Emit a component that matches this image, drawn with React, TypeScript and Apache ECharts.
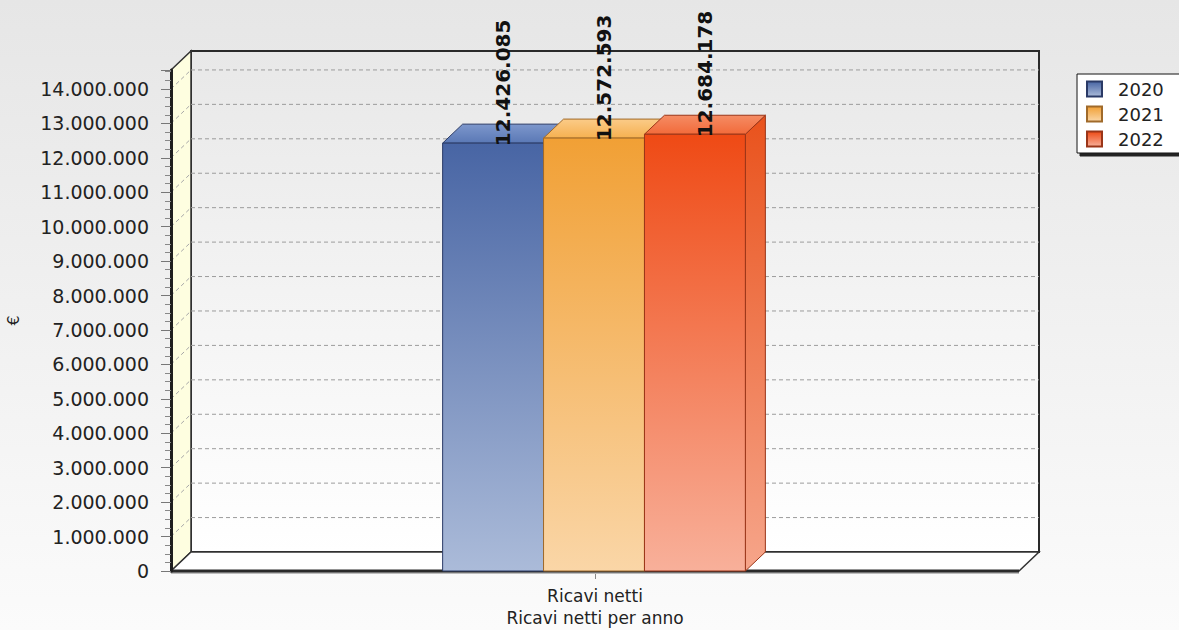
import React, { useEffect, useRef } from "react";
import * as echarts from "echarts";

// ---- data ----
const categories = ["Ricavi netti"];
const years = ["2020", "2021", "2022"];
const values = [12426085, 12572593, 12684178];
const yMin = 0;
const yMax = 14550000;
const yInterval = 1000000;
const xAxisTitle = "Ricavi netti per anno";
const yAxisTitle = "€";

// ---- style ----
const FONT = "DejaVu Sans";
const DX = 20;
const DY = 19;
const BAR_FRACTION = 0.119;
const frontTop = ["#4865a4", "#f1a035", "#ef4a15"];
const frontBottom = ["#abbbd9", "#fad6a7", "#f8b09a"];
const topBack = ["#7d97cc", "#fbcb88", "#f58c64"];
const topFront = ["#5a78b5", "#f5b050", "#f26a3a"];
const sideTop = ["#3c5590", "#e08f2c", "#e9521c"];
const sideBottom = ["#95a8cf", "#f3c68f", "#f6a58a"];
const borders = ["#2a3a66", "#a06a2a", "#9a3518"];

const fmt = (v: number) =>
  String(Math.round(v)).replace(/\B(?=(\d{3})+(?!\d))/g, ".");

const vgrad = (a: string, b: string) =>
  new echarts.graphic.LinearGradient(0, 0, 0, 1, [
    { offset: 0, color: a },
    { offset: 1, color: b },
  ]);

export default function App() {
  const ref = useRef<HTMLDivElement>(null);

  useEffect(() => {
    if (!ref.current) return;
    const chart = echarts.init(ref.current, undefined, { renderer: "svg" });

    const frameSeries = {
      type: "custom",
      name: "frame",
      silent: true,
      z: 1,
      data: [[0, 0]],
      renderItem: (params: any, api: any) => {
        const cs = params.coordSys;
        const xL = cs.x;
        const xR = cs.x + cs.width;
        const yT = cs.y;
        const yB = cs.y + cs.height;
        const children: any[] = [];
        children.push({
          type: "rect",
          shape: { x: xL + DX, y: yT - DY, width: cs.width, height: cs.height },
          style: {
            fill: vgrad("#e8e8e8", "#ffffff"),
            stroke: "#2a2a2a",
            lineWidth: 2,
          },
        });
        children.push({
          type: "polygon",
          shape: {
            points: [
              [xL, yT],
              [xL + DX, yT - DY],
              [xL + DX, yB - DY],
              [xL, yB],
            ],
          },
          style: { fill: "#fefee0", stroke: "#333", lineWidth: 1.5 },
        });
        children.push({
          type: "polygon",
          shape: {
            points: [
              [xL, yB],
              [xL + DX, yB - DY],
              [xR + DX, yB - DY],
              [xR, yB],
            ],
          },
          style: { fill: "#ffffff", stroke: "#333", lineWidth: 1.5 },
        });
        for (let t = yMin + yInterval; t <= yMax; t += yInterval) {
          const yf = api.coord([0, t])[1];
          const yb = yf - DY;
          children.push({
            type: "line",
            shape: { x1: xL + DX, y1: yb, x2: xR + DX, y2: yb },
            style: { stroke: "#9c9c9c", lineWidth: 1, lineDash: [4, 3] },
          });
          children.push({
            type: "line",
            shape: { x1: xL, y1: yf, x2: xL + DX, y2: yb },
            style: { stroke: "#a8a8a8", lineWidth: 1, lineDash: [4, 3] },
          });
        }
        children.push({
          type: "line",
          shape: { x1: xL, y1: yB + 2, x2: xR, y2: yB + 2 },
          style: { stroke: "#bdbdbd", lineWidth: 2 },
        });
        children.push({
          type: "line",
          shape: { x1: xL, y1: yB, x2: xR, y2: yB },
          style: { stroke: "#2a2a2a", lineWidth: 3 },
        });
        return { type: "group", children };
      },
    };

    const barSeries = years.map((year, i) => ({
      type: "custom",
      name: year,
      z: 3,
      itemStyle: {
        color: vgrad(frontTop[i], frontBottom[i]),
        borderColor: borders[i],
        borderWidth: 1,
      },
      data: [[0, values[i]]],
      renderItem: (params: any, api: any) => {
        const cat = api.value(0);
        const val = api.value(1);
        const base = api.coord([cat, yMin]);
        const top = api.coord([cat, val]);
        const band = api.size([1, 0])[0];
        const w = band * BAR_FRACTION;
        const x0 = base[0] - 1.5 * w + i * w - 1;
        const x1 = x0 + w;
        const yTop = top[1];
        const yBase = base[1];
        return {
          type: "group",
          children: [
            {
              type: "polygon",
              shape: {
                points: [
                  [x1, yTop],
                  [x1 + DX, yTop - DY],
                  [x1 + DX, yBase - DY],
                  [x1, yBase],
                ],
              },
              style: {
                fill: vgrad(sideTop[i], sideBottom[i]),
                stroke: borders[i],
                lineWidth: 1,
              },
            },
            {
              type: "polygon",
              shape: {
                points: [
                  [x0, yTop],
                  [x0 + DX, yTop - DY],
                  [x1 + DX, yTop - DY],
                  [x1, yTop],
                ],
              },
              style: {
                fill: new echarts.graphic.LinearGradient(0, 1, 0, 0, [
                  { offset: 0, color: topFront[i] },
                  { offset: 1, color: topBack[i] },
                ]),
                stroke: borders[i],
                lineWidth: 1,
              },
            },
            {
              type: "rect",
              shape: { x: x0, y: yTop, width: w, height: yBase - yTop },
              style: {
                fill: vgrad(frontTop[i], frontBottom[i]),
                stroke: borders[i],
                lineWidth: 1,
              },
            },
            {
              type: "text",
              x: (x0 + x1) / 2 + DX / 2,
              y: yTop + 3,
              rotation: Math.PI / 2,
              z2: 50,
              style: {
                text: fmt(val),
                fontFamily: FONT,
                fontWeight: "bold",
                fontSize: 20,
                fill: "#111",
                align: "left",
                verticalAlign: "middle",
              },
            },
          ],
        };
      },
    }));

    chart.setOption({
      animation: false,
      backgroundColor: vgrad("#e6e6e6", "#fbfbfb"),
      textStyle: { fontFamily: FONT },
      grid: {
        left: 171,
        right: 160,
        top: 70,
        bottom: 59,
        containLabel: false,
        outerBoundsMode: "none",
      },
      legend: {
        data: years,
        orient: "vertical",
        left: 1077,
        top: 74,
        padding: [6, 18, 5, 9],
        itemGap: 7,
        itemWidth: 15,
        itemHeight: 15,
        icon: "rect",
        backgroundColor: "#ffffff",
        borderColor: "#111",
        borderWidth: 1,
        borderRadius: 0,
        shadowColor: "rgba(0,0,0,0.85)",
        shadowBlur: 1,
        shadowOffsetX: 3,
        shadowOffsetY: 3,
        selectedMode: false,
        textStyle: {
          fontFamily: FONT,
          fontSize: 18,
          color: "#222",
          padding: [0, 0, 0, 11],
          lineHeight: 17,
        },
      },
      xAxis: {
        type: "category",
        data: categories,
        axisLine: { show: false },
        axisTick: {
          show: true,
          alignWithLabel: true,
          length: 8,
          lineStyle: { color: "#888" },
        },
        axisLabel: {
          margin: 16,
          fontFamily: FONT,
          fontSize: 17,
          color: "#222",
        },
        name: xAxisTitle,
        nameLocation: "middle",
        nameGap: 38,
        nameTextStyle: { fontFamily: FONT, fontSize: 17, color: "#222" },
        splitLine: { show: false },
      },
      yAxis: {
        type: "value",
        min: yMin,
        max: yMax,
        interval: yInterval,
        z: 5,
        axisLine: { show: true, lineStyle: { color: "#1e1e1e", width: 3 } },
        axisTick: { show: true, length: 10, lineStyle: { color: "#777" } },
        minorTick: { show: true, splitNumber: 4, length: 6, lineStyle: { color: "#888" } },
        splitLine: { show: false },
        axisLabel: {
          margin: 22,
          fontFamily: FONT,
          fontSize: 19,
          color: "#222",
          formatter: (v: number) => (v % yInterval === 0 ? fmt(v) : ""),
        },
        name: yAxisTitle,
        nameLocation: "middle",
        nameGap: 150,
        nameTextStyle: { fontFamily: FONT, fontSize: 16, color: "#222" },
      },
      series: [frameSeries, ...barSeries],
    });

    return () => chart.dispose();
  }, []);

  return (
    <div
      ref={ref}
      style={{ position: "fixed", left: 0, top: 0, width: 1179, height: 630 }}
    />
  );
}
